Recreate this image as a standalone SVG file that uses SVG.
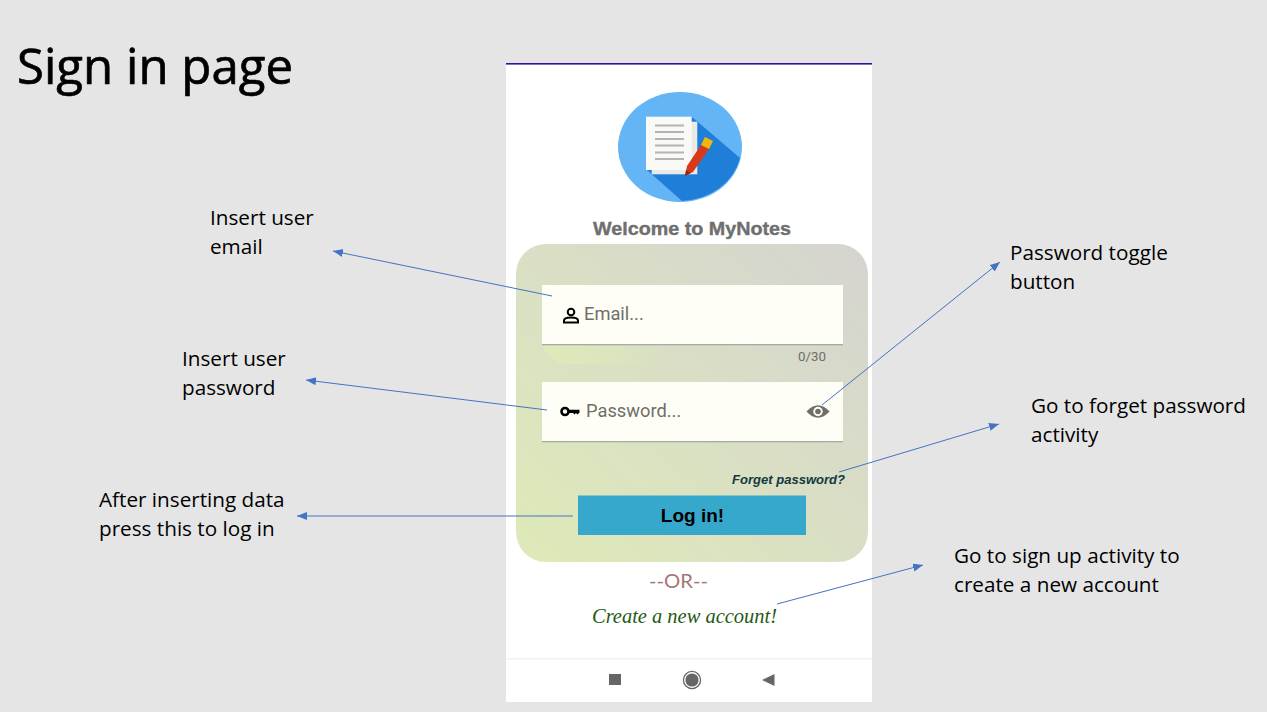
<svg xmlns="http://www.w3.org/2000/svg" width="1267" height="712" viewBox="0 0 1267 712">
<style>
.note{font-family:"Open Sans","Noto Sans",sans-serif;font-size:20.7px;fill:#000}
.hint{font-family:Roboto,"Liberation Sans",sans-serif;font-size:18.300px;fill:#6f6f68}
.conn{stroke:#4472c4;stroke-width:1;fill:none;marker-end:url(#arrow)}
.rule{fill:#a9a9a3}
.field{fill:#fefef6}
.docline{fill:#b4b4b0}
</style>
<defs>
<marker id="arrow" markerUnits="userSpaceOnUse" markerWidth="11" markerHeight="9" refX="10" refY="4" orient="auto"><path d="M0 0L10 4L0 8Z" fill="#4472c4"/></marker>
<linearGradient id="cardFill" x1="0" y1="1" x2="1" y2="0"><stop offset="0" stop-color="#deeab8"/><stop offset="1" stop-color="#d5d4d0"/></linearGradient>
<linearGradient id="glow" x1="0" y1="0" x2="1" y2="0"><stop offset="0" stop-color="#deeab8"/><stop offset="1" stop-color="#deeab8" stop-opacity="0"/></linearGradient>
</defs>
<rect width="1267" height="712" fill="#e5e5e5"/>
<g id="title"><text x="17" y="84" font-family="'Open Sans','Noto Sans',sans-serif" font-size="50" fill="#000" stroke="#000" stroke-width="0.700" textLength="276" lengthAdjust="spacingAndGlyphs">Sign in page</text></g>
<g id="phone">
<rect x="506" y="63" width="366" height="639" fill="#fff"/>
<rect x="506" y="63" width="366" height="1.6" fill="#3a0ca0"/>
<rect x="506" y="658" width="366" height="1.5" fill="#f2f2f2"/>
<rect x="609" y="674" width="12" height="11" fill="#666"/>
<circle cx="692" cy="680" r="8.6" fill="#fff" stroke="#666" stroke-width="1.3"/><circle cx="692" cy="680" r="6.6" fill="#666"/>
<path d="M762 680L774.500 674V686Z" fill="#666"/>
</g>
<g id="logo">
<ellipse cx="680" cy="147" rx="62" ry="55" fill="#64b5f6"/>
<path d="M692 117L740 158A62 55 0 0 1 682 201L647 170Z" fill="#1f7fd8"/>
<rect x="651.700" y="121.700" width="45.600" height="52.600" fill="#e9e9e6"/>
<rect x="646" y="116.700" width="45.700" height="53.300" fill="#f9f9f7"/>
<rect class="docline" x="655" y="124.500" width="29" height="2"/><rect class="docline" x="655" y="131" width="29" height="2"/><rect class="docline" x="655" y="138" width="29" height="2"/><rect class="docline" x="655" y="144.500" width="29" height="2"/><rect class="docline" x="655" y="151.500" width="29" height="2"/><rect class="docline" x="655" y="158" width="29" height="2"/>
<path d="M685 176L687 166L701 145L709 149L693 172Z" fill="#d8391b"/>
<path d="M685 176L686 170L690.500 173Z" fill="#8a2a14"/>
<path d="M701 145L705 137L713 141L709 149Z" fill="#f5b60c"/>
</g>
<g id="welcome"><text x="593" y="235" font-family="'Liberation Sans',sans-serif" font-weight="700" font-size="19" fill="#6f6f6f" stroke="#6f6f6f" stroke-width="0.400" textLength="198" lengthAdjust="spacingAndGlyphs">Welcome to MyNotes</text></g>
<g id="card">
<rect x="516" y="244" width="352" height="318" rx="30" fill="url(#cardFill)"/>
<path d="M542 344H660V364H566Q549 362 542 344Z" fill="url(#glow)"/>
</g>
<g id="email-field">
<rect class="field" x="542" y="285" width="301" height="59"/><rect class="rule" x="542" y="344" width="301" height="1.300"/>
<g fill="none" stroke="#000" stroke-width="2"><circle cx="571" cy="312" r="3.300"/><path d="M564 322.500V320.500Q564 317.500 571 317.500Q578 317.500 578 320.500V322.500Z"/></g>
<text class="hint" x="584" y="320">Email...</text>
<text x="798" y="361" font-family="Roboto,'Liberation Sans',sans-serif" font-size="13" fill="#6f6f68" textLength="28" lengthAdjust="spacingAndGlyphs">0/30</text>
</g>
<g id="password-field">
<rect class="field" x="542" y="382" width="301" height="59"/><rect class="rule" x="542" y="441" width="301" height="1.300"/>
<circle cx="565" cy="411.500" r="3.500" fill="none" stroke="#000" stroke-width="2.600"/><path d="M568 409.800H579.500V412.500L577.500 414.500L576 413L574.500 414.500L573 413H568Z" fill="#000"/>
<text class="hint" x="586" y="417">Password...</text>
<path d="M806.500 411.500Q818 399 829.500 411.500Q818 424 806.500 411.500Z" fill="#6f6f68"/><circle cx="818" cy="411.500" r="4.700" fill="#fefef6"/><circle cx="818" cy="411.500" r="2.800" fill="#6f6f68"/>
</g>
<g id="forget-link"><text x="732" y="484" font-family="'Liberation Sans',sans-serif" font-weight="700" font-style="italic" font-size="12.500" fill="#12393f" textLength="113" lengthAdjust="spacingAndGlyphs">Forget password?</text></g>
<g id="login-button">
<rect x="578" y="495.500" width="228" height="39.500" fill="#36a8cb"/>
<text x="692.500" y="522" text-anchor="middle" font-family="'Liberation Sans',sans-serif" font-weight="700" font-size="19" fill="#000">Log in!</text>
</g>
<g id="or-label"><text x="678.500" y="588" text-anchor="middle" font-family="Lato,sans-serif" font-size="20" fill="#a67676" textLength="59" lengthAdjust="spacingAndGlyphs">--OR--</text></g>
<g id="create-link"><text x="592" y="623" font-family="'Liberation Serif',serif" font-style="italic" font-size="21" fill="#1f5a14" textLength="185" lengthAdjust="spacingAndGlyphs">Create a new account!</text></g>
<g id="note-email"><text class="note"><tspan x="210" y="225">Insert user</tspan><tspan x="210" y="254">email</tspan></text></g>
<g id="note-password"><text class="note"><tspan x="182" y="366">Insert user</tspan><tspan x="182" y="395">password</tspan></text></g>
<g id="note-login"><text class="note"><tspan x="99" y="507">After inserting data</tspan><tspan x="99" y="536">press this to log in</tspan></text></g>
<g id="note-toggle"><text class="note"><tspan x="1010" y="260">Password toggle</tspan><tspan x="1010" y="289">button</tspan></text></g>
<g id="note-forget"><text class="note"><tspan x="1031" y="413">Go to forget password</tspan><tspan x="1031" y="442">activity</tspan></text></g>
<g id="note-signup"><text class="note"><tspan x="954" y="563">Go to sign up activity to</tspan><tspan x="954" y="592">create a new account</tspan></text></g>
<g id="connectors">
<path class="conn" d="M552 296L333 251"/>
<path class="conn" d="M547 410L306 380"/>
<path class="conn" d="M573 516H297"/>
<path class="conn" d="M822 405L1000 262"/>
<path class="conn" d="M839 472L999 424"/>
<path class="conn" d="M777 604L923 565"/>
</g>
</svg>
